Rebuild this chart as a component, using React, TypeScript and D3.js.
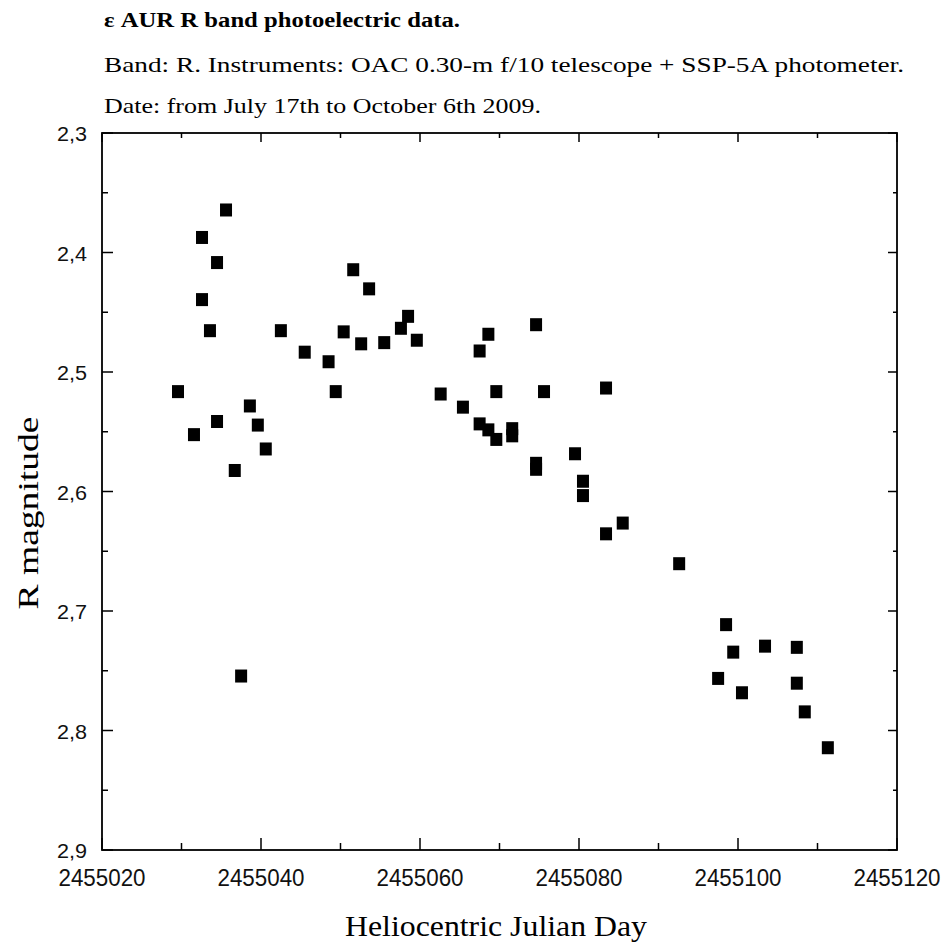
import React from "react";
import * as d3 from "d3";

const hjd = [
  2455029.56, 2455031.57, 2455032.58, 2455032.58, 2455033.58, 2455034.47, 2455034.47,
  2455035.6, 2455036.7, 2455037.5, 2455038.6, 2455039.6, 2455040.6, 2455042.5,
  2455045.5, 2455048.5, 2455049.4, 2455050.4, 2455051.6, 2455052.6, 2455053.6,
  2455055.5, 2455057.6, 2455058.5, 2455059.6, 2455062.6, 2455065.4, 2455067.5,
  2455067.5, 2455068.6, 2455068.6, 2455069.6, 2455069.6, 2455071.6, 2455071.6,
  2455074.6, 2455074.6, 2455074.6, 2455075.6, 2455079.5, 2455080.5, 2455080.5,
  2455083.4, 2455083.4, 2455085.5, 2455092.6, 2455097.5, 2455098.5, 2455099.4,
  2455100.5, 2455103.4, 2455107.4, 2455107.4, 2455108.4, 2455111.3,
];
const rmag = [
  2.516, 2.552, 2.387, 2.439, 2.465, 2.408, 2.541,
  2.364, 2.582, 2.754, 2.528, 2.544, 2.564, 2.465,
  2.483, 2.491, 2.516, 2.466, 2.414, 2.476, 2.43,
  2.475, 2.463, 2.453, 2.473, 2.518, 2.529, 2.482,
  2.543, 2.468, 2.548, 2.556, 2.516, 2.547, 2.553,
  2.46, 2.576, 2.581, 2.516, 2.568, 2.591, 2.603,
  2.513, 2.635, 2.626, 2.66, 2.756, 2.711, 2.734,
  2.768, 2.729, 2.73, 2.76, 2.784, 2.814,
];

const xTicks = [2455020, 2455040, 2455060, 2455080, 2455100, 2455120];
const xTickLabels = ["2455020", "2455040", "2455060", "2455080", "2455100", "2455120"];
const xMinor = [2455030, 2455050, 2455070, 2455090, 2455110];
const yTicks = [2.3, 2.4, 2.5, 2.6, 2.7, 2.8, 2.9];
const yTickLabels = ["2,3", "2,4", "2,5", "2,6", "2,7", "2,8", "2,9"];
const yMinor = [2.35, 2.45, 2.55, 2.65, 2.75, 2.85];

const titleText = "ε AUR R band photoelectric data.";
const subtitle1 = "Band: R. Instruments: OAC 0.30-m f/10 telescope + SSP-5A photometer.";
const subtitle2 = "Date: from July 17th to October 6th 2009.";
const xTitle = "Heliocentric Julian Day";
const yTitle = "R  magnitude";

export default function App() {
  const L = 102, R = 897, T = 133, B = 850;
  const x = d3.scaleLinear().domain([2455020, 2455120]).range([L, R]);
  const y = d3.scaleLinear().domain([2.3, 2.9]).range([T, B]);
  const ms = 12;
  const serif = "'Liberation Serif', 'Times New Roman', serif";
  const sans = "'Liberation Sans', Arial, sans-serif";

  return (
    <svg width={952} height={946} style={{ position: "absolute", left: 0, top: 0, background: "#fff" }}>
      <rect x={0} y={0} width={952} height={946} fill="#fff" />
      <text x={104} y={27} fontFamily={serif} fontWeight="bold" fontSize={20} textLength={356} lengthAdjust="spacingAndGlyphs">{titleText}</text>
      <text x={104} y={72} fontFamily={serif} fontSize={21} textLength={800} lengthAdjust="spacingAndGlyphs">{subtitle1}</text>
      <text x={104} y={113} fontFamily={serif} fontSize={21} textLength={437} lengthAdjust="spacingAndGlyphs">{subtitle2}</text>

      <rect x={L} y={T} width={R - L} height={B - T} fill="none" stroke="#000" strokeWidth={1.8} />

      {xTicks.map((t, i) => (
        <g key={"xt" + i}>
          <line x1={x(t)} x2={x(t)} y1={B} y2={B - 12} stroke="#000" strokeWidth={1.5} />
          <line x1={x(t)} x2={x(t)} y1={T} y2={T + 9} stroke="#000" strokeWidth={1.5} />
          <text x={x(t)} y={886} textAnchor="middle" fontFamily={sans} fontSize={23} textLength={87} lengthAdjust="spacingAndGlyphs" fill="#111">{xTickLabels[i]}</text>
        </g>
      ))}
      {xMinor.map((t, i) => (
        <g key={"xm" + i}>
          <line x1={x(t)} x2={x(t)} y1={B} y2={B - 7} stroke="#000" strokeWidth={1.5} />
          <line x1={x(t)} x2={x(t)} y1={T} y2={T + 5} stroke="#000" strokeWidth={1.5} />
        </g>
      ))}
      {yTicks.map((t, i) => (
        <g key={"yt" + i}>
          <line x1={L} x2={L + 11} y1={y(t)} y2={y(t)} stroke="#000" strokeWidth={1.5} />
          <line x1={R} x2={R - 9} y1={y(t)} y2={y(t)} stroke="#000" strokeWidth={1.5} />
          <text x={87} y={y(t) + 8} textAnchor="end" fontFamily={sans} fontSize={20} textLength={30} lengthAdjust="spacingAndGlyphs" fill="#111">{yTickLabels[i]}</text>
        </g>
      ))}
      {yMinor.map((t, i) => (
        <g key={"ym" + i}>
          <line x1={L} x2={L + 6} y1={y(t)} y2={y(t)} stroke="#000" strokeWidth={1.5} />
          <line x1={R} x2={R - 4} y1={y(t)} y2={y(t)} stroke="#000" strokeWidth={1.5} />
        </g>
      ))}

      {hjd.map((d, i) => (
        <rect key={"p" + i} x={x(d) - ms / 2} y={y(rmag[i]) - ms / 2} width={ms} height={ms + 1} fill="#000" />
      ))}

      <text x={496} y={936} textAnchor="middle" fontFamily={serif} fontSize={30} textLength={302} lengthAdjust="spacingAndGlyphs">{xTitle}</text>
      <text transform={`translate(38, 513) rotate(-90)`} textAnchor="middle" fontFamily={serif} fontSize={29} textLength={193} lengthAdjust="spacingAndGlyphs">{yTitle}</text>
    </svg>
  );
}
